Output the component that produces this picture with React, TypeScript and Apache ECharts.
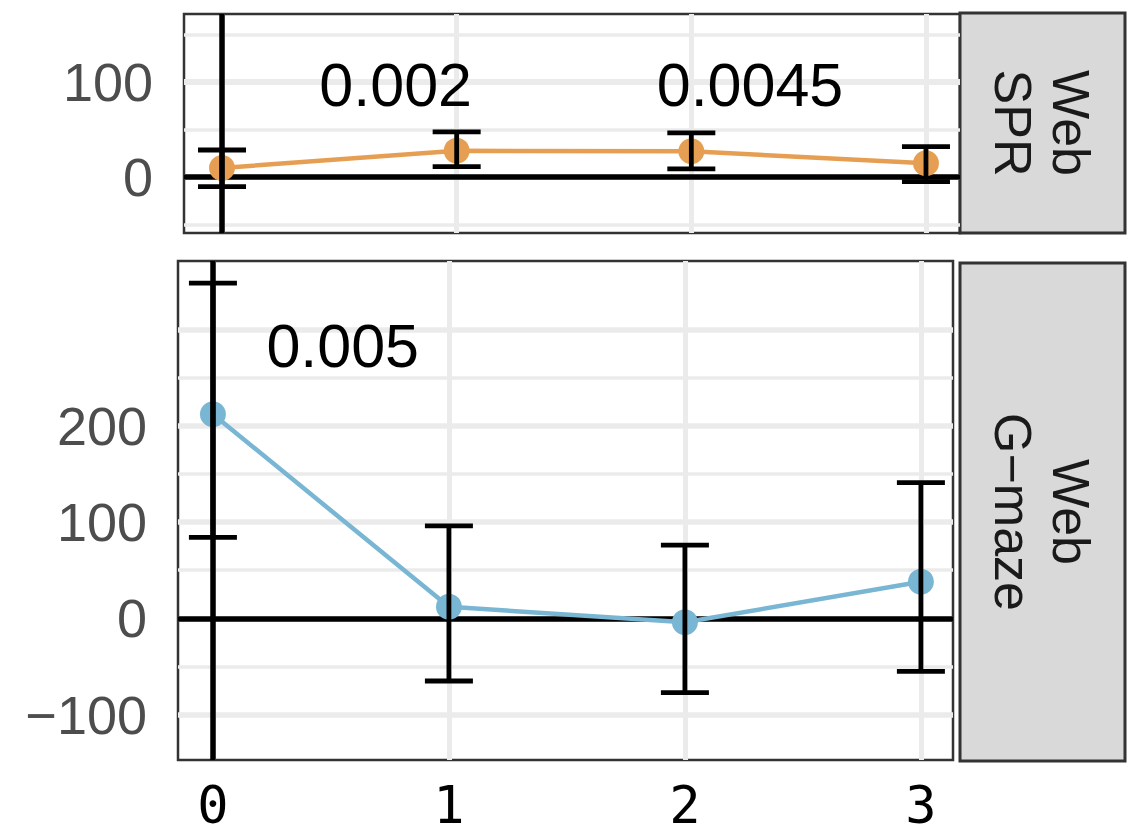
import React, { useEffect, useRef } from "react";
import * as echarts from "echarts";

// ---- data ----
const xTicks = [0, 1, 2, 3];
const panelLabels = ["Web\nSPR", "Web\nG\u2212maze"];

// Web SPR panel
const sprX = [0, 1, 2, 3];
const sprMean = [9.5, 27.5, 27, 14.5];
const sprLow = [-10.2, 10.8, 8.5, -5];
const sprHigh = [28.4, 47.5, 46.5, 32];
const sprTickValues = [0, 100];
const sprGridMajor = [0, 100];
const sprGridMinor = [-50, 50, 150];
const sprAnnotX = [0.74, 2.25];
const sprAnnotY = [97, 97];
const sprAnnotText = ["0.002", "0.0045"];

// Web G-maze panel
const gmX = [0, 1, 2, 3];
const gmMean = [212, 12, -4, 38];
const gmLow = [84, -65, -77, -55];
const gmHigh = [348, 96, 76, 141];
const gmTickValues = [-100, 0, 100, 200];
const gmGridMajor = [-100, 0, 100, 200, 300];
const gmGridMinor = [-50, 50, 150, 250];
const gmAnnotX = [0.55];
const gmAnnotY = [283];
const gmAnnotText = ["0.005"];

const xGrid = [0, 1, 2, 3];

const ORANGE = "#E69F52";
const BLUE = "#79B6D3";
const GRIDC = "#EBEBEB";
const SANS = "Liberation Sans";

function errorBarSeries(idx: number, xs: number[], lo: number[], hi: number[], z: number) {
  return {
    type: "custom",
    xAxisIndex: idx,
    yAxisIndex: idx,
    z,
    silent: true,
    data: xs.map((x, i) => [x, lo[i], hi[i]]),
    renderItem: (_p: any, api: any) => {
      const x = api.value(0);
      const pLo = api.coord([x, api.value(1)]);
      const pHi = api.coord([x, api.value(2)]);
      const half = 24;
      const w = 4.8;
      const style = { fill: "#000" };
      return {
        type: "group",
        children: [
          { type: "rect", shape: { x: pHi[0] - w / 2, y: pHi[1], width: w, height: pLo[1] - pHi[1] }, style },
          { type: "rect", shape: { x: pHi[0] - half, y: pHi[1] - w / 2, width: half * 2, height: w }, style },
          { type: "rect", shape: { x: pLo[0] - half, y: pLo[1] - w / 2, width: half * 2, height: w }, style },
        ],
      };
    },
  };
}

function gridSeries(idx: number, major: number[], minor: number[], xs: number[], mean: number[], majorW: number) {
  return {
    type: "line",
    xAxisIndex: idx,
    yAxisIndex: idx,
    z: 1,
    silent: true,
    showSymbol: false,
    lineStyle: { opacity: 0 },
    data: xs.map((x, i) => [x, mean[i]]),
    markLine: {
      z: 1,
      silent: true,
      symbol: ["none", "none"],
      label: { show: false },
      animation: false,
      data: [
        ...minor.map((v) => ({ yAxis: v, lineStyle: { color: GRIDC, width: 3.5, type: "solid" } })),
        ...major.map((v) => ({ yAxis: v, lineStyle: { color: GRIDC, width: majorW, type: "solid" } })),
        ...xGrid.map((v) => ({ xAxis: v, lineStyle: { color: GRIDC, width: 5, type: "solid" } })),
      ],
    },
  };
}

function zeroLineSeries(idx: number, xs: number[], mean: number[], z: number, which: "h" | "v") {
  return {
    type: "line",
    xAxisIndex: idx,
    yAxisIndex: idx,
    z,
    silent: true,
    showSymbol: false,
    lineStyle: { opacity: 0 },
    data: xs.map((x, i) => [x, mean[i]]),
    markLine: {
      z,
      silent: true,
      symbol: ["none", "none"],
      label: { show: false },
      animation: false,
      data: [which === "h" ? { yAxis: 0 } : { xAxis: 0 }],
      lineStyle: { color: "#000", width: 5.5, type: "solid" },
    },
  };
}

function dataSeries(idx: number, xs: number[], mean: number[], color: string, z: number) {
  return {
    type: "line",
    xAxisIndex: idx,
    yAxisIndex: idx,
    z,
    silent: true,
    symbol: "circle",
    symbolSize: 26,
    lineStyle: { color, width: 4.5 },
    itemStyle: { color },
    data: xs.map((x, i) => [x, mean[i]]),
  };
}

function annotSeries(idx: number, ax: number[], ay: number[], at: string[]) {
  return {
    type: "scatter",
    xAxisIndex: idx,
    yAxisIndex: idx,
    z: 10,
    silent: true,
    symbolSize: 1,
    itemStyle: { color: "rgba(0,0,0,0)" },
    data: ax.map((x, i) => ({ value: [x, ay[i]], name: at[i] })),
    label: {
      show: true,
      position: "inside",
      formatter: "{b}",
      fontFamily: SANS,
      fontSize: 61,
      color: "#000",
      opacity: 1,
      align: "center",
      verticalAlign: "middle",
    },
  };
}

export default function App() {
  const ref = useRef<HTMLDivElement>(null);
  useEffect(() => {
    if (!ref.current) return;
    const chart = echarts.init(ref.current, undefined, { renderer: "svg" });
    const yAxisCommon = (min: number, max: number, ticks: number[], gi: number) => ({
      type: "value",
      gridIndex: gi,
      min,
      max,
      axisLine: { show: false },
      splitLine: { show: false },
      axisTick: {
        show: true,
        customValues: ticks,
        length: 15,
        lineStyle: { color: "#333", width: 4 },
      },
      axisLabel: {
        show: true,
        customValues: ticks,
        fontFamily: SANS,
        fontSize: 54,
        color: "#4D4D4D",
        margin: 31,
        formatter: (v: number) => String(v).replace("-", "\u2212"),
      },
    });
    chart.setOption({
      animation: false,
      backgroundColor: "#fff",
      grid: [
        { left: 184, top: 14, width: 776, height: 219, show: true, borderColor: "#333", borderWidth: 2.5, backgroundColor: "#fff" },
        { left: 178, top: 261, width: 775, height: 499, show: true, borderColor: "#333", borderWidth: 2.5, backgroundColor: "#fff" },
      ],
      xAxis: [
        {
          type: "value",
          gridIndex: 0,
          min: -0.162,
          max: 3.145,
          axisLine: { show: false },
          axisTick: { show: false },
          axisLabel: { show: false },
          splitLine: { show: false },
        },
        {
          type: "value",
          gridIndex: 1,
          min: -0.148,
          max: 3.136,
          axisLine: { show: false },
          axisTick: { show: false },
          splitLine: { show: false },
          axisLabel: {
            show: true,
            customValues: xTicks,
            fontFamily: "DejaVu Sans Mono",
            fontSize: 52,
            lineHeight: 42,
            color: "#000",
            margin: 24,
          },
        },
      ],
      yAxis: [
        yAxisCommon(-59, 171.6, sprTickValues, 0),
        yAxisCommon(-147, 371, gmTickValues, 1),
      ],
      graphic: [
        {
          type: "rect",
          shape: { x: 960, y: 13, width: 165, height: 220 },
          style: { fill: "#D9D9D9", stroke: "#333", lineWidth: 3 },
        },
        {
          type: "text",
          x: 1042,
          y: 123,
          rotation: -Math.PI / 2,
          style: {
            text: panelLabels[0],
            fontFamily: SANS,
            fontSize: 52,
            lineHeight: 58,
            fill: "#1A1A1A",
            align: "center",
            verticalAlign: "middle",
          },
        },
        {
          type: "rect",
          shape: { x: 960, y: 263, width: 165, height: 498 },
          style: { fill: "#D9D9D9", stroke: "#333", lineWidth: 3 },
        },
        {
          type: "text",
          x: 1042,
          y: 512,
          rotation: -Math.PI / 2,
          style: {
            text: panelLabels[1],
            fontFamily: SANS,
            fontSize: 52,
            lineHeight: 58,
            fill: "#1A1A1A",
            align: "center",
            verticalAlign: "middle",
          },
        },
      ],
      series: [
        gridSeries(0, sprGridMajor, sprGridMinor, sprX, sprMean, 6),
        zeroLineSeries(0, sprX, sprMean, 2, "h"),
        dataSeries(0, sprX, sprMean, ORANGE, 3),
        errorBarSeries(0, sprX, sprLow, sprHigh, 4),
        zeroLineSeries(0, sprX, sprMean, 5, "v"),
        annotSeries(0, sprAnnotX, sprAnnotY, sprAnnotText),

        gridSeries(1, gmGridMajor, gmGridMinor, gmX, gmMean, 5.5),
        zeroLineSeries(1, gmX, gmMean, 2, "h"),
        dataSeries(1, gmX, gmMean, BLUE, 3),
        errorBarSeries(1, gmX, gmLow, gmHigh, 4),
        zeroLineSeries(1, gmX, gmMean, 5, "v"),
        annotSeries(1, gmAnnotX, gmAnnotY, gmAnnotText),
      ],
    });
    return () => chart.dispose();
  }, []);
  return (
    <div
      ref={ref}
      style={{ position: "fixed", left: 0, top: 0, width: 1138, height: 836, background: "#fff" }}
    />
  );
}
